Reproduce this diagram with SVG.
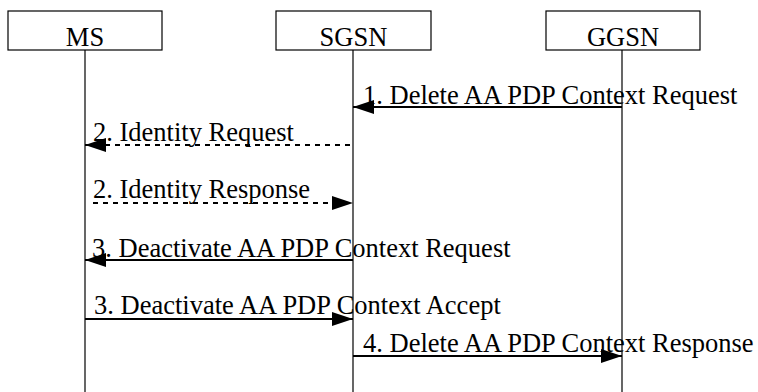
<svg xmlns="http://www.w3.org/2000/svg" width="758" height="392" viewBox="0 0 758 392">
<style>
.box{fill:#fff;stroke:#000;stroke-width:1.2}
.life{stroke:#000;stroke-width:1.2}
.msg{stroke:#000;stroke-width:2;fill:none}
.dash{stroke-dasharray:5,5}
text{font-family:"Liberation Serif","Times New Roman",serif;font-size:26.5px;fill:#000}
.c{text-anchor:middle}
</style>
<defs>
<marker id="ah" markerUnits="userSpaceOnUse" markerWidth="22" markerHeight="14" refX="21" refY="7" orient="auto">
<path d="M0,0 L21,7 L0,14 z" fill="#000"/>
</marker>
</defs>
<g id="node-ms">
<rect class="box" x="8" y="11" width="154" height="39"/>
<text class="c" x="85" y="46">MS</text>
<line class="life" x1="85" y1="50" x2="85" y2="392"/>
</g>
<g id="node-sgsn">
<rect class="box" x="276" y="11" width="155" height="39"/>
<text class="c" x="353.5" y="46">SGSN</text>
<line class="life" x1="353" y1="50" x2="353" y2="392"/>
</g>
<g id="node-ggsn">
<rect class="box" x="546" y="11" width="154" height="39"/>
<text class="c" x="623" y="46">GGSN</text>
<line class="life" x1="622" y1="50" x2="622" y2="392"/>
</g>
<g id="connectors">
<line class="msg" x1="622" y1="107" x2="353" y2="107" marker-end="url(#ah)"/>
<text x="363" y="104">1. Delete AA PDP Context Request</text>
<line class="msg dash" x1="350" y1="145" x2="85" y2="145" marker-end="url(#ah)"/>
<text x="93" y="141">2. Identity Request</text>
<line class="msg dash" x1="93" y1="203" x2="353" y2="203" marker-end="url(#ah)"/>
<text x="93" y="198">2. Identity Response</text>
<line class="msg" x1="353" y1="260" x2="85" y2="260" marker-end="url(#ah)"/>
<text x="92" y="257">3. Deactivate AA PDP Context Request</text>
<line class="msg" x1="85" y1="319" x2="353" y2="319" marker-end="url(#ah)"/>
<text x="94" y="314">3. Deactivate AA PDP Context Accept</text>
<line class="msg" x1="353" y1="356" x2="622" y2="356" marker-end="url(#ah)"/>
<text x="363" y="352">4. Delete AA PDP Context Response</text>
</g>
</svg>
